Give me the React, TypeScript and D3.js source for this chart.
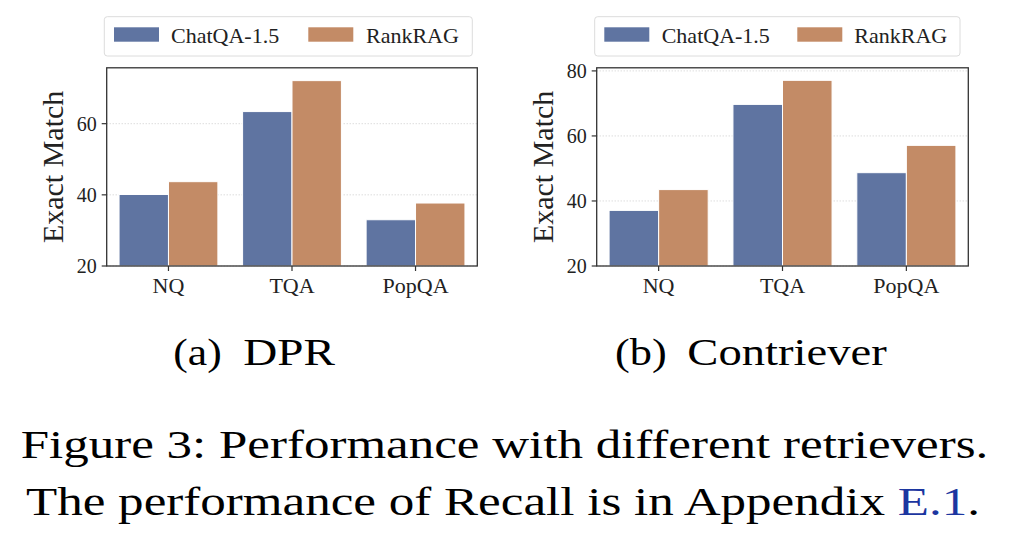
import React from "react";
import * as d3 from "d3";

const categories = ["NQ", "TQA", "PopQA"];
const seriesNames = ["ChatQA-1.5", "RankRAG"];
const dprChatQA = [40.1, 63.4, 33.0];
const dprRankRAG = [43.7, 72.1, 37.7];
const contrieverChatQA = [37.1, 69.7, 48.7];
const contrieverRankRAG = [43.5, 77.1, 57.1];
const dprTicks = [20, 40, 60];
const contrieverTicks = [20, 40, 60, 80];
const colors = ["#5F74A1", "#C38B66"];
const FONT = "Liberation Serif, Times New Roman, DejaVu Serif, serif";

type PanelProps = {
  left: number; right: number; top: number; bottom: number;
  series: number[][]; ticks: number[]; ylabelX: number;
  legend: { x0: number; x1: number; patches: number[]; texts: number[] };
};

function Panel({ left, right, top, bottom, series, ticks, ylabelX, legend }: PanelProps) {
  const yMax = d3.max(series.flat())! * 1.05;
  const y = d3.scaleLinear().domain([20, yMax]).range([bottom, top]);
  const x = d3.scaleBand<string>().domain(categories).range([left, right]).paddingInner(0.2).paddingOuter(0.1);
  const xs = d3.scaleBand<number>().domain(d3.range(series.length)).range([0, x.bandwidth()]);
  return (
    <g>
      <rect x={legend.x0} y={16.7} width={legend.x1 - legend.x0} height={39.3} rx={3} fill="white" stroke="#dcdcdc" strokeWidth={1} />
      {seriesNames.map((n, i) => (
        <g key={n}>
          <rect x={legend.patches[i]} y={27.3} width={45} height={14.4} fill={colors[i]} />
          <text x={legend.texts[i]} y={42.7} fontSize={22} style={{ fontFamily: FONT }} fill="#222">{n}</text>
        </g>
      ))}
      {ticks.map((t) => (
        <line key={t} x1={left} x2={right} y1={y(t)} y2={y(t)} stroke="#c8c8c8" strokeWidth={0.9} strokeDasharray="1,2" />
      ))}
      {categories.map((c, ci) =>
        series.map((s, si) => (
          <rect key={c + si} x={x(c)! + xs(si)!} y={y(s[ci])} width={xs.bandwidth()} height={y(20) - y(s[ci])}
            fill={colors[si]} stroke="white" strokeWidth={1} />
        ))
      )}
      <rect x={left} y={top} width={right - left} height={bottom - top} fill="none" stroke="#333" strokeWidth={1.3} />
      {ticks.map((t) => (
        <g key={t}>
          <line x1={left - 5} x2={left} y1={y(t)} y2={y(t)} stroke="#333" strokeWidth={1.2} />
          <text x={left - 10} y={y(t)} dy="0.36em" textAnchor="end" fontSize={20} style={{ fontFamily: FONT }} fill="#222">{t}</text>
        </g>
      ))}
      {categories.map((c) => {
        const cx = x(c)! + x.bandwidth() / 2;
        return (
          <g key={c}>
            <line x1={cx} x2={cx} y1={bottom} y2={bottom + 5} stroke="#333" strokeWidth={1.2} />
            <text x={cx} y={292.7} textAnchor="middle" fontSize={22} style={{ fontFamily: FONT }} fill="#222">{c}</text>
          </g>
        );
      })}
      <text transform={`translate(${ylabelX},${(top + bottom) / 2}) rotate(-90)`} textAnchor="middle" fontSize={30} style={{ fontFamily: FONT }} fill="#222">Exact Match</text>
    </g>
  );
}

export default function App() {
  const cap = { fontFamily: FONT };
  return (
    <svg width={1026} height={536} style={{ position: "absolute", left: 0, top: 0, background: "white" }}>
      <rect width={1026} height={536} fill="white" />
      <Panel left={106.7} right={477.3} top={67.8} bottom={266} series={[dprChatQA, dprRankRAG]} ticks={dprTicks} ylabelX={63}
        legend={{ x0: 104.3, x1: 472.3, patches: [114, 308.3], texts: [171, 366] }} />
      <Panel left={596.7} right={968.3} top={67.8} bottom={266} series={[contrieverChatQA, contrieverRankRAG]} ticks={contrieverTicks} ylabelX={553}
        legend={{ x0: 594.7, x1: 960, patches: [604.3, 797.3], texts: [661.7, 854.3] }} />
      <text x={173.3} y={365} fontSize={37} style={cap} textLength={48.4} lengthAdjust="spacingAndGlyphs">(a)</text>
      <text x={243.3} y={365} fontSize={37} style={cap} textLength={91.7} lengthAdjust="spacingAndGlyphs">DPR</text>
      <text x={615} y={365} fontSize={37} style={cap} textLength={51.7} lengthAdjust="spacingAndGlyphs">(b)</text>
      <text x={687.3} y={365} fontSize={37} style={cap} textLength={199.4} lengthAdjust="spacingAndGlyphs">Contriever</text>
      <text x={20.7} y={458.3} fontSize={40} style={cap} textLength={967.6} lengthAdjust="spacingAndGlyphs">Figure 3: Performance with different retrievers.</text>
      <text x={26} y={515} fontSize={40} style={cap} textLength={954} lengthAdjust="spacingAndGlyphs">
        The performance of Recall is in Appendix <tspan fill="#1c36a0">E.1</tspan>.
      </text>
    </svg>
  );
}
